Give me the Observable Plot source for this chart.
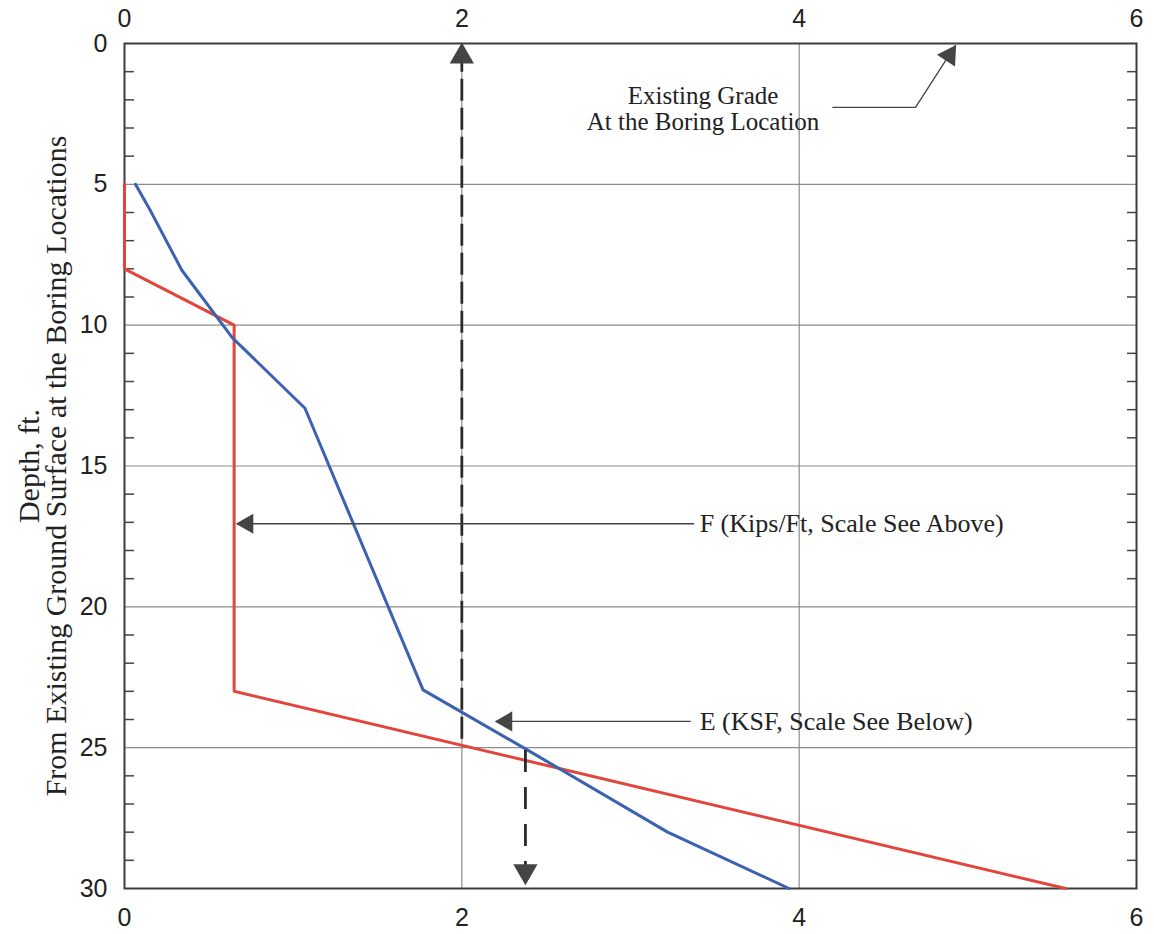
<!DOCTYPE html>
<html>
<head>
<meta charset="utf-8">
<script src="https://cdn.jsdelivr.net/npm/d3@7"></script>
<script src="https://cdn.jsdelivr.net/npm/@observablehq/plot@0.6"></script>
<style>
  html, body { margin: 0; padding: 0; background: #fff; }
</style>
</head>
<body>
<div id="chart"></div>
<script>
// ---- data ----
const xTicks = [0, 2, 4, 6];
const yTicks = [0, 5, 10, 15, 20, 25, 30];
const gridXValues = [2, 4];
const gridYValues = [5, 10, 15, 20, 25];
const minorDepths = [1,2,3,4,6,7,8,9,11,12,13,14,16,17,18,19,21,22,23,24,26,27,28,29];

// F (Kips/Ft) red curve
const fValue = [0, 0, 0.65, 0.65, 5.58];
const fDepth = [5, 8, 10, 23, 30];

// E (KSF) blue curve
const eValue = [0.065, 0.155, 0.34, 0.64, 1.07, 1.77, 2.38, 3.22, 3.94];
const eDepth = [5, 5.95, 8.05, 10.45, 12.95, 22.95, 25.05, 28.0, 30];

// dashed vertical arrows: [x, fromDepth, tipDepth]
const upArrow = [2.0, 24.7, 0];
const downArrow = [2.377, 25.1, 29.85];

// annotations
const gradeLabel = ["Existing Grade\nAt the Boring Location"];
const gradeLabelPos = [3.43, 2.3];
const gradeLeaderX = [4.2, 4.69, 4.926];
const gradeLeaderY = [2.27, 2.27, 0.07];
const fLabel = ["F (Kips/Ft, Scale See Above)"];
const fLabelPos = [3.41, 17.05];
const fArrow = [3.38, 0.67]; // from x, tip x
const eLabel = ["E (KSF, Scale See Below)"];
const eLabelPos = [3.41, 24.07];
const eArrow = [3.36, 2.205];
const yLabel = ["Depth, ft.\nFrom Existing Ground Surface at the Boring Locations"];

const serif = "Liberation Serif, Times New Roman, serif";
const sans = "Liberation Sans, Arial, sans-serif";
const red = "#e2453c";
const blue = "#3a62b0";
const dark = "#2b2b2b";

const fData = fValue.map((v, i) => ({x: v, y: fDepth[i]}));
const eData = eValue.map((v, i) => ({x: v, y: eDepth[i]}));
const gradeLeader = gradeLeaderX.map((v, i) => ({x: v, y: gradeLeaderY[i]}));
const intFmt = d3.format("d");

const chart = Plot.plot({
  width: 1154,
  height: 934,
  marginLeft: 124,
  marginRight: 18,
  marginTop: 43,
  marginBottom: 46,
  x: {domain: [0, 6]},
  y: {domain: [0, 30], reverse: true},
  style: {fontFamily: sans, fontSize: "25px", background: "#fff", color: "#222"},
  marks: [
    Plot.gridX(gridXValues, {stroke: "#8c8c8c", strokeOpacity: 1, strokeWidth: 1.2}),
    Plot.gridY(gridYValues, {stroke: "#8c8c8c", strokeOpacity: 1, strokeWidth: 1.2}),
    Plot.frame({stroke: "#3c3c3c", strokeWidth: 2}),
    Plot.axisX({anchor: "top", ticks: xTicks, tickFormat: intFmt, tickSize: 0, tickPadding: 17, label: null, fontSize: 25}),
    Plot.axisX({anchor: "bottom", ticks: xTicks, tickFormat: intFmt, tickSize: 0, tickPadding: 20, label: null, fontSize: 25}),
    Plot.axisY({anchor: "left", ticks: yTicks, tickFormat: intFmt, tickSize: 0, tickPadding: 17, label: null, fontSize: 25}),
    Plot.axisY(minorDepths, {anchor: "left", tickSize: 10, insetLeft: 10, tickFormat: () => "", label: null, stroke: "#444", strokeWidth: 1.5}),
    Plot.axisY(minorDepths, {anchor: "right", tickSize: 10, insetRight: 10, tickFormat: () => "", label: null, stroke: "#444", strokeWidth: 1.5}),
    // curves
    Plot.line(fData, {x: "x", y: "y", stroke: red, strokeWidth: 3}),
    Plot.line(eData, {x: "x", y: "y", stroke: blue, strokeWidth: 3}),
    // dashed arrows
    Plot.ruleX([upArrow], {x: d => d[0], y1: d => d[1], y2: d => d[2], stroke: dark, strokeWidth: 2.8, strokeDasharray: "22,7"}),
    Plot.dot([upArrow], {x: d => d[0], y: d => d[2], dy: 13, symbol: "triangle", r: 9, fill: "#444", stroke: "none"}),
    Plot.ruleX([downArrow], {x: d => d[0], y1: d => d[1], y2: d => d[2], stroke: dark, strokeWidth: 2.8, strokeDasharray: "22,15"}),
    Plot.dot([downArrow], {x: d => d[0], y: d => d[2], dy: -13, rotate: 180, symbol: "triangle", r: 9, fill: "#444", stroke: "none"}),
    // Existing grade annotation
    Plot.line(gradeLeader, {x: "x", y: "y", stroke: "#444", strokeWidth: 1.3}),
    Plot.dot([gradeLeader[2]], {x: "x", y: "y", dx: -6, dy: 10, rotate: 33, symbol: "triangle", r: 8, fill: "#444", stroke: "none"}),
    Plot.text(gradeLabel, {x: gradeLabelPos[0], y: gradeLabelPos[1], text: d => d, fontFamily: serif, fontSize: 25, lineHeight: 1.06, textAnchor: "middle", fill: "#222"}),
    // F annotation
    Plot.ruleY([fLabelPos[1]], {x1: fArrow[0], x2: fArrow[1], stroke: "#444", strokeWidth: 1.3}),
    Plot.dot([fArrow], {x: d => d[1], y: fLabelPos[1], dx: 10, rotate: -90, symbol: "triangle", r: 7.5, fill: "#444", stroke: "none"}),
    Plot.text(fLabel, {x: fLabelPos[0], y: fLabelPos[1], text: d => d, fontFamily: serif, fontSize: 26, textAnchor: "start", fill: "#222"}),
    // E annotation
    Plot.ruleY([eLabelPos[1]], {x1: eArrow[0], x2: eArrow[1], stroke: "#444", strokeWidth: 1.3}),
    Plot.dot([eArrow], {x: d => d[1], y: eLabelPos[1], dx: 10, rotate: -90, symbol: "triangle", r: 7.5, fill: "#444", stroke: "none"}),
    Plot.text(eLabel, {x: eLabelPos[0], y: eLabelPos[1], text: d => d, fontFamily: serif, fontSize: 26, textAnchor: "start", fill: "#222"}),
    // y-axis title
    Plot.text(yLabel, {frameAnchor: "left", dx: -81, rotate: -90, text: d => d, fontFamily: serif, fontSize: 30, lineHeight: 0.92, textAnchor: "middle", fill: "#222"})
  ]
});
document.getElementById("chart").appendChild(chart);
</script>
</body>
</html>
